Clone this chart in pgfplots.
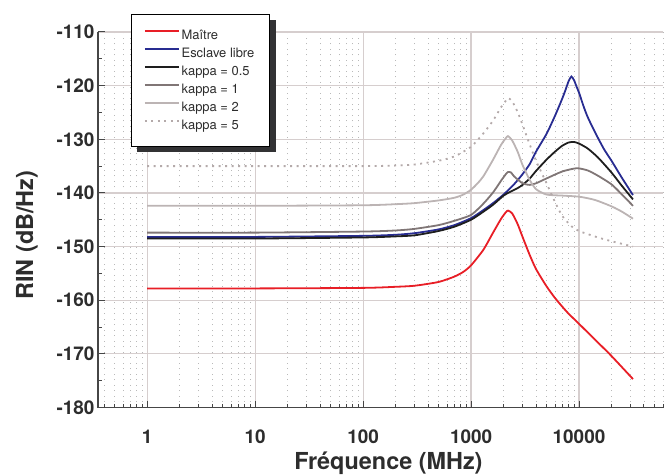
\documentclass[border=0pt]{standalone}
\usepackage{pgfplots}
\pgfplotsset{compat=1.18}
\usepackage{fontspec}
\setmainfont{TeX Gyre Heros}
\definecolor{cRed}{RGB}{232,30,38}
\definecolor{cBlue}{RGB}{40,44,145}
\definecolor{cBlack}{RGB}{30,30,30}
\definecolor{cGray}{RGB}{128,118,118}
\definecolor{cLight}{RGB}{188,180,180}
\definecolor{cDot}{RGB}{180,170,170}
\definecolor{gridMaj}{RGB}{214,206,206}
\definecolor{gridMin}{RGB}{185,185,185}
\definecolor{axisC}{RGB}{70,70,70}
\definecolor{txt}{RGB}{45,45,45}
\definecolor{shad}{RGB}{50,50,52}
\begin{document}
\begin{tikzpicture}
\useasboundingbox (-98bp,-67.5bp) rectangle (567bp,407.5bp);
\begin{axis}[
 at={(0,0)}, anchor=south west,
 scale only axis, width=565bp, height=375.5bp,
 clip=false,
 xmode=log, xmin=0.35, xmax=60000, ymin=-180, ymax=-110,
 axis x line*=bottom, axis y line*=left,
 axis line style={axisC, line width=1.4bp, -},
 xtick={1,10,100,1000,10000}, xticklabels={1,10,100,1000,10000},
 minor xtick={0.4,0.5,0.6,0.7,0.8,0.9,2,3,4,5,6,7,8,9,20,30,40,50,60,70,80,90,200,300,400,500,600,700,800,900,2000,3000,4000,5000,6000,7000,8000,9000,20000,30000,40000,50000,60000},
 ytick={-180,-170,-160,-150,-140,-130,-120,-110},
 yticklabels={-180,-170,-160,-150,-140,-130,-120,-110},
 minor ytick={-175,-165,-155,-145,-135,-125,-115},
 tick align=inside,
 major tick length=7bp, minor tick length=4bp,
 tick style={axisC, line width=1bp},
 xmajorgrids=true, ymajorgrids=true, xminorgrids=true, yminorgrids=false,
 major grid style={gridMaj, line width=1.2bp},
 minor grid style={gridMin, line width=0.8bp, dash pattern=on 1bp off 4.5bp},
 ticklabel style={font=\fontsize{19}{22}\selectfont\bfseries, text=txt},
 xticklabel style={anchor=base, yshift=-35.5bp},
 xlabel={Fréquence (MHz)}, ylabel={RIN (dB/Hz)},
 label style={font=\fontsize{23.5}{27}\selectfont\bfseries, text=txt},
 xlabel style={at={(axis description cs:0.514,-0.1664)}, anchor=base},
 ylabel style={at={(axis description cs:-0.1257,0.459)}, anchor=center},
 legend cell align=left,
 legend image code/.code={\draw[#1] (0bp,5bp) -- (34bp,5bp);},
 legend style={at={(axis description cs:0.0579,1.047)}, anchor=north west,
   draw=black, line width=0.6bp, fill=white,
   font=\fontsize{13}{15}\selectfont, text=txt,
   inner xsep=13bp, inner ysep=14.5bp, row sep=5bp,
   nodes={inner xsep=1.8bp, inner ysep=0bp, text height=10bp, text depth=3bp}},
]
\fill[shad] (axis description cs:0.0685,1.031) rectangle (axis description cs:0.3145,0.6795);
\addplot[cRed, line width=1.8bp, smooth, tension=0.4] coordinates {
(1,-157.8)(10,-157.8)(100,-157.7)(200,-157.5)(300,-157.3)(500,-156.6)(700,-155.6)(850,-154.7)(1000,-153.5)(1300,-150.6)(1600,-147.4)(1900,-144.8)(2100,-143.6)(2200,-143.3)(2400,-143.8)(2700,-145.8)(3000,-148.2)(3500,-151.6)(4000,-154.2)(5000,-157.4)(6000,-159.6)(7000,-161.2)(8000,-162.5)(10000,-164.4)(15000,-167.9)(20000,-170.4)(31623,-174.7)};
\addlegendentry{Maître}
\addplot[cBlue, line width=1.8bp, smooth, tension=0.4] coordinates {
(1,-148.2)(10,-148.2)(100,-148.0)(200,-147.8)(300,-147.5)(500,-146.8)(700,-146.0)(1000,-144.7)(1300,-143.2)(1600,-141.9)(2000,-140.3)(2500,-138.4)(3000,-136.5)(3500,-134.6)(4000,-132.3)(5000,-129.0)(6000,-125.6)(7000,-122.4)(7500,-120.8)(8000,-119.2)(8500,-118.3)(9000,-119.0)(9500,-120.2)(10000,-121.3)(11000,-123.8)(12000,-125.8)(14000,-128.6)(17000,-131.8)(20000,-134.0)(25000,-137.2)(31623,-140.4)};
\addlegendentry{Esclave libre}
\addplot[cBlack, line width=1.8bp, smooth, tension=0.4] coordinates {
(1,-148.5)(10,-148.5)(100,-148.3)(200,-148.1)(300,-147.9)(500,-147.1)(700,-146.3)(1000,-145.0)(1300,-143.5)(1600,-142.2)(2000,-140.5)(2300,-139.8)(2700,-139.1)(3000,-138.5)(3500,-137.3)(4000,-135.9)(5000,-133.8)(6000,-132.3)(7000,-131.2)(8000,-130.6)(9000,-130.5)(10000,-130.8)(12000,-131.7)(15000,-133.4)(20000,-136.2)(25000,-138.7)(31623,-141.2)};
\addlegendentry{kappa = 0.5}
\addplot[cGray, line width=1.8bp, smooth, tension=0.4] coordinates {
(1,-147.4)(10,-147.4)(100,-147.2)(200,-147.0)(300,-146.7)(500,-146.0)(700,-145.2)(1000,-144.1)(1300,-142.0)(1600,-139.9)(1900,-137.7)(2100,-136.5)(2200,-136.1)(2350,-136.2)(2500,-136.9)(3000,-138.2)(3500,-138.5)(4000,-138.2)(5000,-137.3)(7000,-136.0)(9500,-135.4)(12000,-135.8)(15000,-136.8)(20000,-138.4)(25000,-140.3)(31623,-142.4)};
\addlegendentry{kappa = 1}
\addplot[cLight, line width=1.8bp, smooth, tension=0.4] coordinates {
(1,-142.4)(10,-142.4)(100,-142.3)(200,-142.1)(300,-141.9)(500,-141.4)(700,-140.9)(850,-140.3)(1000,-139.4)(1150,-138.2)(1300,-136.9)(1600,-133.8)(1900,-131.0)(2100,-129.8)(2200,-129.4)(2400,-130.2)(2700,-132.3)(3000,-134.8)(3500,-137.6)(4000,-139.3)(5000,-140.3)(7000,-140.5)(10000,-140.7)(14000,-141.3)(20000,-142.5)(25000,-143.5)(31623,-144.8)};
\addlegendentry{kappa = 2}
\addplot[cDot, line width=1.8bp, dash pattern=on 2bp off 4.5bp, smooth, tension=0.4] coordinates {
(1,-135.0)(10,-135.0)(100,-135.0)(200,-134.9)(300,-134.7)(500,-134.0)(700,-133.2)(1000,-131.4)(1300,-128.9)(1600,-126.5)(1900,-124.0)(2100,-122.8)(2200,-122.3)(2400,-122.9)(2700,-124.9)(3000,-127.3)(3500,-131.0)(4000,-134.0)(5000,-138.2)(6000,-141.7)(7000,-144.3)(8500,-146.2)(10000,-147.1)(15000,-148.3)(20000,-149.0)(31623,-150.0)};
\addlegendentry{kappa = 5}
\end{axis}
\end{tikzpicture}
\end{document}
